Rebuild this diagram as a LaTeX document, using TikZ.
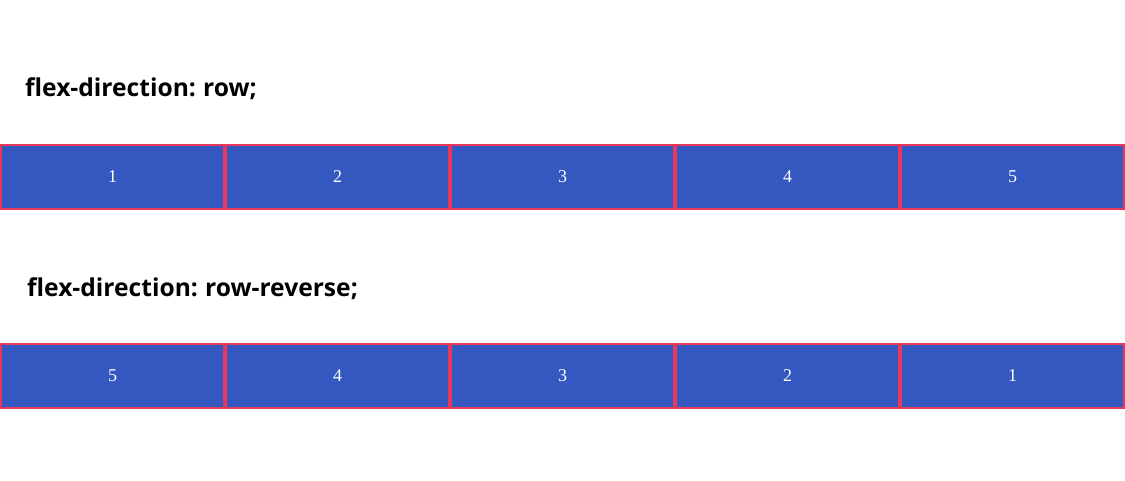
\documentclass[tikz,border=0pt]{standalone}
\usepackage{fontspec}
\setmainfont{Liberation Serif}
\newfontfamily\headfont[WordSpace=0.8]{Open Sans}
\usepackage{tikz}
\definecolor{itemblue}{RGB}{52,87,192}
\definecolor{itemred}{RGB}{232,56,92}

\begin{document}
\begin{tikzpicture}[x=1pt,y=-1pt]

	\tikzstyle heading=[anchor=base west, inner sep=0pt, font=\headfont\bfseries\fontsize{24.6}{30}\selectfont];
	\tikzstyle flex item=[draw=itemred, fill=itemblue, line width=2pt, text=white,
		minimum width=223pt, minimum height=64pt, inner sep=0pt, font=\fontsize{18}{21}\selectfont];

	\useasboundingbox (0,0) rectangle (1125,480);

	\node[heading] (row) at (25,96) {flex-direction: row;};
		\foreach \x/\label in {0/1,1/2,2/3,3/4,4/5}
			\node[flex item] (r\label) at (112.5+225*\x,177) {\label};

	\node[heading] (rowrev) at (27,296) {flex-direction: row-reverse;};
		\foreach \x/\label in {0/5,1/4,2/3,3/2,4/1}
			\node[flex item] (rr\label) at (112.5+225*\x,376) {\label};

\end{tikzpicture}
\end{document}
